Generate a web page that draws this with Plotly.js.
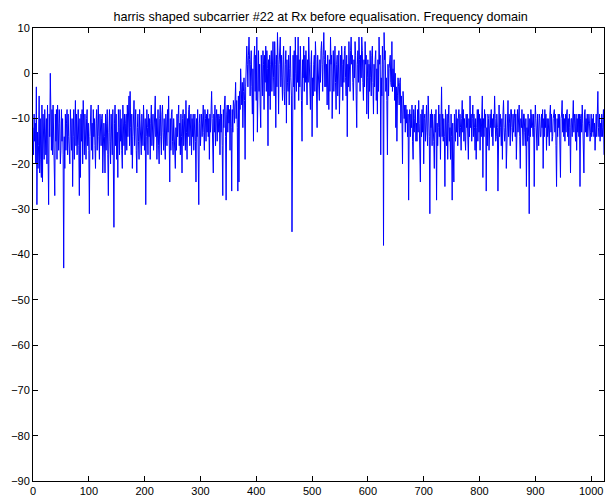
<!DOCTYPE html>
<html>
<head>
<meta charset="utf-8">
<script src="https://cdn.plot.ly/plotly-3.0.1.min.js"></script>
<style>
  html, body { margin: 0; padding: 0; background: #fff; }
  #chart { width: 605px; height: 499px; }
</style>
</head>
<body>
<div id="chart"></div>
<script>
// Received spectrum magnitude (dB) of the harris-shaped subcarrier, FFT bins 0..1023
const bins000 = [
  -12,-18,-9,-15,-11,-20,-3,-29,-13,-21,-16,-5,-22,-10,-19,-23,
  -7,-24,-9,-16,-19,-8,-14,-18,-10,-20,-7,-16,-29,-9,-14,0,
  -10,-17,-8,-18,-7,-13,-19,-27,-9,-15,-8,-19,-7,-12,-17,-8,
  -11,-20,-17,-8,-15,-10,-18,-43,-14,-21,-9,-17,-11,-8,-18,-9,
  -14,-19,-20,-8,-12,-17,-10,-25,-14,-8,-19,-11,-6,-16,-9,-18,
  -14,-8,-16,-27,-10,-23,-9,-15,-8,-20,-6,-13,-18,-9,-14,-19,
  -10,-8,-16,-11,-17,-31,-14,-9,-7,-17,-11,-19,-8,-14,-10,-16,
  -21,-11,-8,-17,-10,-7,-14,-19,-9,-12,-16,-10,-9,-22,-17,-11
];
const bins128 = [
  -14,-22,-9,-17,-11,-8,-18,-27,-13,-8,-15,-20,-9,-14,-18,-8,
  -16,-34,-11,-7,-16,-9,-19,-13,-23,-8,-12,-18,-8,-15,-10,-17,
  -21,-7,-13,-16,-9,-18,-11,-9,-17,-7,-14,-10,-5,-16,-4,-12,
  -18,-9,-21,-14,-10,-6,-16,-11,-8,-17,-22,-12,-9,-15,-19,-8,
  -11,-15,-18,-9,-13,-16,-7,-12,-17,-10,-29,-14,-8,-12,-18,-9,
  -14,-10,-19,-11,-7,-16,-10,-9,-17,-11,-9,-5,-14,-10,-19,-13,
  -8,-16,-20,-10,-7,-14,-18,-9,-7,-13,-17,-10,-14,-19,-9,-12,
  -16,-8,-13,-5,-14,-24,-10,-17,-9,-8,-15,-18,-10,-13,-16,-21
];
const bins256 = [
  -12,-17,-9,-14,-10,-7,-16,-11,-18,-9,-14,-22,-10,-8,-16,-12,
  -9,-17,-6,-13,-19,-10,-14,-8,-7,-16,-11,-9,-18,-10,-14,-9,
  -17,-11,-9,-15,-24,-10,-14,-8,-17,-29,-11,-9,-16,-10,-9,-14,
  -9,-7,-13,-17,-8,-10,-15,-9,-13,-8,-14,-10,-19,-9,-13,-9,
  -4,-10,-15,-22,-9,-13,-7,-16,-10,-8,-15,-9,-13,-9,-10,-18,
  -7,-13,-9,-16,-27,-8,-12,-7,-5,-14,-28,-9,-7,-13,-7,-11,
  -8,-17,-7,-12,-26,-8,-13,-6,-7,-11,-5,-2,-10,-6,-12,-26,
  -5,-24,-4,-8,1,-3,-7,-2,-12,-4,-1,-6,-19,-3,0,6
];
const bins384 = [
  2,-3,4,8,3,-5,2,5,-3,-9,1,-15,3,6,-4,4,
  -6,8,-13,3,5,-4,2,-7,-12,4,-2,-5,5,2,-8,4,
  -2,6,-4,5,1,-16,3,-5,4,-8,2,5,-4,3,7,-1,
  -5,7,2,-12,4,-3,9,3,-9,2,5,8,-3,4,-1,-6,
  3,6,-4,-7,2,5,-11,3,-2,-4,4,-7,1,6,-1,-5,
  -35,3,4,-3,5,-8,8,0,-4,4,-2,8,-6,3,-3,6,
  2,-6,-15,3,-1,6,-4,4,-2,5,0,-7,3,-2,8,4,
  -3,-8,2,5,-14,-1,-5,2,4,-4,7,3,-3,-12,4,-1
];
const bins512 = [
  -4,-6,3,-2,5,7,2,-4,4,9,3,-3,5,-3,2,-7,
  4,-1,-8,3,-4,8,2,4,-10,-1,5,-4,3,6,-2,-8,
  2,4,-5,3,5,-9,-1,4,-3,6,2,-6,3,-2,5,6,
  -1,-5,4,-14,2,-3,7,3,-4,5,8,2,4,-2,-6,3,
  -1,7,4,-5,-12,2,5,-2,8,3,-4,4,-1,8,5,-2,
  -6,3,-3,7,2,4,-9,-1,3,-10,2,-4,5,-1,-5,4,
  6,-2,-9,2,-3,3,5,-6,1,-9,3,-4,8,2,4,-18,
  -1,-5,6,2,-38,9,3,5,-4,-1,-6,-18,2,-5,1,3
];
const bins640 = [
  4,-2,-3,7,-4,1,-3,3,-6,0,-12,-3,-15,-5,-1,-3,
  -7,-2,-1,-11,-5,-9,-20,-4,-6,-10,-7,-13,-7,-11,-8,-14,
  -9,-28,-11,-8,-14,-9,-12,-7,-15,-19,-8,-13,-10,-7,-15,-11,
  -15,-8,-13,-6,-11,-16,-24,-9,-14,-8,-13,-7,-20,-10,-9,-15,
  -10,-7,-13,-16,-5,-11,-14,-31,-9,-12,-8,-16,-9,-11,-15,-21,
  -9,-13,-8,-28,-11,-16,-12,-7,-14,-9,-19,-12,-3,-14,-9,-15,
  -10,-14,-25,-8,-12,-16,-9,-19,-11,-7,-15,-12,-19,-9,-14,-28,
  -11,-17,-24,-9,-14,-15,-8,-13,-10,-16,-10,-8,-14,-9,-12,-17
];
const bins768 = [
  -10,-6,-13,-8,-15,-10,-14,-17,-9,-12,-9,-16,-19,-10,-14,-5,
  -12,-9,-15,-10,-7,-14,-9,-12,-17,-10,-19,-12,-8,-15,-8,-13,
  -9,-17,-10,-14,-8,-5,-23,-10,-14,-8,-12,-9,-26,-12,-16,-9,
  -10,-17,-13,-9,-12,-8,-14,-10,-16,-9,-12,-5,-10,-15,-14,-9,
  -12,-26,-10,-7,-14,-9,-12,-16,-10,-19,-9,-6,-12,-15,-13,-9,
  -21,-12,-8,-6,-14,-9,-11,-16,-8,-8,-12,-15,-9,-13,-10,-8,
  -14,-9,-19,-10,-8,-13,-9,-7,-14,-21,-10,-12,-8,-14,-16,-9,
  -9,-13,-16,-10,-25,-12,-15,-9,-14,-31,-10,-14,-8,-12,-9,-11
];
const bins896 = [
  -14,-9,-25,-12,-7,-10,-14,-17,-9,-12,-16,-9,-10,-14,-14,-9,
  -12,-8,-21,-10,-14,-8,-12,-9,-17,-10,-14,-10,-12,-16,-9,-7,
  -13,-9,-15,-14,-10,-9,-8,-13,-9,-16,-25,-10,-14,-9,-12,-9,
  -15,-23,-10,-9,-6,-13,-9,-14,-10,-15,-9,-13,-9,-8,-14,-10,
  -16,-9,-12,-22,-10,-10,-14,-9,-6,-13,-9,-11,-15,-9,-17,-10,
  -13,-9,-14,-9,-25,-10,-9,-13,-7,-11,-15,-22,-9,-8,-13,-10,
  -14,-9,-14,-12,-9,-11,-15,-13,-9,-14,-10,-13,-9,-14,-11,-17,
  -12,-9,-14,-10,-4,-12,-14,-9,-15,-11,-14,-9,-14,-12,-8,-18
];

const magnitudeDb = [].concat(bins000, bins128, bins256, bins384,
                              bins512, bins640, bins768, bins896);
const binIndex = magnitudeDb.map((_, k) => k);

const xTicks = [0, 100, 200, 300, 400, 500, 600, 700, 800, 900, 1000];
const yTicks = [-90, -80, -70, -60, -50, -40, -30, -20, -10, 0, 10];

const family = 'Liberation Sans, Arial, Helvetica, sans-serif';
const tickFont = { family: family, size: 11, color: '#000' };

const trace = {
  x: binIndex,
  y: magnitudeDb,
  type: 'scatter',
  mode: 'lines',
  line: { color: '#0000ff', width: 1 },
  hoverinfo: 'x+y'
};

const axisCommon = {
  showgrid: false,
  zeroline: false,
  showline: true,
  linecolor: '#000',
  linewidth: 1,
  mirror: 'ticks',
  ticks: 'inside',
  ticklen: 5,
  tickwidth: 1,
  tickcolor: '#000',
  tickfont: tickFont
};

const layout = {
  width: 605,
  height: 499,
  margin: { l: 33, r: 1, t: 28, b: 18 },
  paper_bgcolor: '#fff',
  plot_bgcolor: '#fff',
  showlegend: false,
  font: tickFont,
  title: {
    text: 'harris shaped subcarrier #22 at Rx before equalisation. Frequency domain',
    font: { family: family, size: 12.6, color: '#000' },
    xref: 'container', x: 0.53, xanchor: 'center',
    yref: 'container', y: 0.967, yanchor: 'middle'
  },
  xaxis: Object.assign({}, axisCommon, {
    range: [0, 1023],
    tickmode: 'array',
    tickvals: xTicks,
    ticktext: xTicks.map(String)
  }),
  yaxis: Object.assign({}, axisCommon, {
    range: [-90, 10],
    tickmode: 'array',
    tickvals: yTicks
  })
};

Plotly.newPlot('chart', [trace], layout, { displayModeBar: false, staticPlot: true });
</script>
</body>
</html>
